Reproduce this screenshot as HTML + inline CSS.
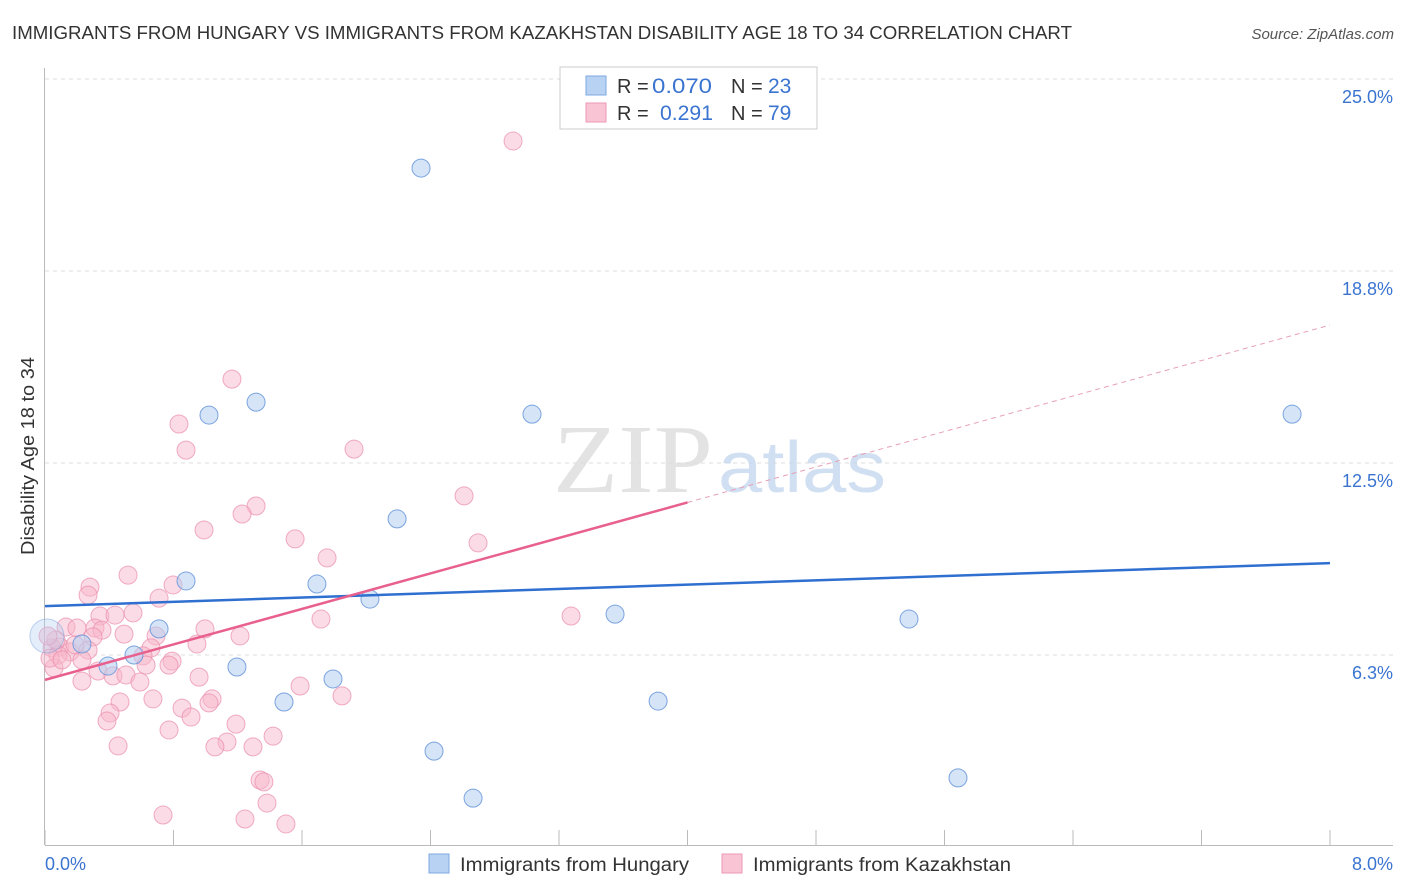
<!DOCTYPE html>
<html><head><meta charset="utf-8">
<style>
body{margin:0;background:#fff;font-family:"Liberation Sans",sans-serif;}
svg{display:block}
</style></head>
<body>
<svg id="chart" width="1406" height="892" xmlns="http://www.w3.org/2000/svg">
<text x="12" y="39" font-size="18" fill="#333" textLength="1060" lengthAdjust="spacingAndGlyphs">IMMIGRANTS FROM HUNGARY VS IMMIGRANTS FROM KAZAKHSTAN DISABILITY AGE 18 TO 34 CORRELATION CHART</text>
<text x="1394" y="39" font-size="15" fill="#555" font-style="italic" text-anchor="end">Source: ZipAtlas.com</text>
<text x="34" y="456" font-size="18" fill="#333" text-anchor="middle" textLength="198" lengthAdjust="spacingAndGlyphs" transform="rotate(-90 34 456)">Disability Age 18 to 34</text>
<g id="grid"></g>
<g><text x="553" y="492" font-size="98" fill="#ddd" font-family="Liberation Serif,serif" opacity="0.8" textLength="160" lengthAdjust="spacingAndGlyphs">ZIP</text><text x="718" y="492" font-size="72" fill="#c5d8ee" opacity="0.8" textLength="168" lengthAdjust="spacingAndGlyphs">atlas</text></g>
<g id="axes"></g>
<g id="pinkpts"></g>
<g id="bluepts"></g>
<g id="trends"></g>
<g>
<rect x="560" y="67" width="257" height="62" fill="#fff" stroke="#ccc"/>
<rect x="586" y="76" width="20" height="19" fill="#b8d2f4" stroke="#7fa8e0"/>
<rect x="586" y="103" width="20" height="19" fill="#f9c4d3" stroke="#ec9ab5"/>
<text x="617" y="93" font-size="20" fill="#333">R = </text><text x="652" y="93" font-size="21" fill="#3a74d0" textLength="60" lengthAdjust="spacingAndGlyphs">0.070</text>
<text x="731" y="93" font-size="20" fill="#333">N = </text><text x="768" y="93" font-size="21" fill="#3a74d0">23</text>
<text x="617" y="120" font-size="20" fill="#333">R = </text><text x="660" y="120" font-size="21" fill="#3a74d0" textLength="53" lengthAdjust="spacingAndGlyphs">0.291</text>
<text x="731" y="120" font-size="20" fill="#333">N = </text><text x="768" y="120" font-size="21" fill="#3a74d0">79</text>
</g>
<g>
<rect x="429" y="854" width="20" height="19" fill="#b8d2f4" stroke="#7fa8e0"/>
<text x="460" y="871" font-size="19" fill="#333" textLength="229" lengthAdjust="spacingAndGlyphs">Immigrants from Hungary</text>
<rect x="722" y="854" width="20" height="19" fill="#f9c4d3" stroke="#ec9ab5"/>
<text x="753" y="871" font-size="19" fill="#333" textLength="258" lengthAdjust="spacingAndGlyphs">Immigrants from Kazakhstan</text>
</g>
</svg>
<script>
const yTicks=[6.25,12.5,18.75,25];
const yTickLabels=["6.3%","12.5%","18.8%","25.0%"];
const xTickLabels=["0.0%","8.0%"];
const blueX=[2.341,1.021,1.314,3.032,7.764,2.192,0.878,1.693,2.023,3.549,5.379,0.710,0.230,0.554,0.392,1.195,1.793,1.488,3.817,2.422,5.684,2.665,0.012];
const blueY=[22.10,14.06,14.48,14.09,14.09,10.68,8.66,8.56,8.07,7.58,7.42,7.10,6.61,6.25,5.89,5.86,5.47,4.72,4.75,3.12,2.25,1.59,6.87];
const pinkX=[2.914,1.164,0.834,0.878,1.924,2.609,1.314,1.227,0.990,1.557,2.696,1.756,0.517,0.280,0.797,0.710,0.268,0.548,0.342,0.436,3.275,1.718,0.131,0.199,0.311,0.355,0.996,1.214,0.492,0.691,0.299,0.946,0.660,0.093,0.044,0.268,0.156,0.081,0.610,0.230,0.791,0.629,0.056,0.330,0.772,0.423,0.504,0.591,0.230,0.959,1.588,1.849,0.672,1.040,0.467,0.853,1.021,0.405,0.909,0.386,1.189,0.772,1.420,1.133,1.058,1.295,0.455,1.339,1.363,1.382,0.735,1.245,1.500,0.031,0.068,0.187,0.106,0.019];
const pinkY=[22.98,15.23,13.77,12.92,12.95,11.43,11.10,10.84,10.32,10.03,9.90,9.41,8.85,8.46,8.53,8.10,8.20,7.62,7.52,7.55,7.52,7.42,7.16,7.13,7.13,7.06,7.10,6.87,6.93,6.87,6.84,6.61,6.48,6.51,6.48,6.41,6.35,6.25,6.22,6.09,6.05,5.92,5.83,5.73,5.92,5.57,5.60,5.37,5.40,5.53,5.24,4.92,4.82,4.82,4.72,4.52,4.69,4.36,4.23,4.10,4.00,3.81,3.61,3.42,3.26,3.26,3.29,2.18,2.12,1.43,1.04,0.91,0.75,6.15,6.74,6.58,6.09,6.87];
const blueTrend=[7.84,9.24];
const pinkTrend=[5.44,16.99];
const pinkSolidEnd=4.0;
const NS="http://www.w3.org/2000/svg";
const X=v=>45+v/8*1285, Y=v=>847-v*30.72;
function mk(tag,attrs,parent){const e=document.createElementNS(NS,tag);for(const k in attrs)e.setAttribute(k,attrs[k]);parent.appendChild(e);return e;}
const grid=document.getElementById('grid'),axes=document.getElementById('axes');
yTicks.forEach((t,i)=>{
 const l=mk('line',{x1:45,x2:1393,y1:Y(t),y2:Y(t),stroke:'#ddd','stroke-dasharray':'4 4'},grid);
 
 
 const tx=mk('text',{x:1393,y:Y(t)+24,'font-size':18,fill:'#3a74d0','text-anchor':'end'},axes);
 tx.textContent=yTickLabels[i];
 
 
});
mk('line',{x1:45,x2:1393,y1:79,y2:79,stroke:'#ddd','stroke-dasharray':'4 4'},grid);
const ya=mk('line',{x1:44.5,x2:44.5,y1:68,y2:845,stroke:'#bbb'},axes);


const xa=mk('line',{x1:45,x2:1393,y1:845.5,y2:845.5,stroke:'#bbb'},axes);


for(let i=0;i<=10;i++){const tk=mk('line',{x1:X(i*0.8),x2:X(i*0.8),y1:830,y2:845,stroke:'#bbb'},axes);
 
 }
const xl0=mk('text',{x:45,y:870,'font-size':18,fill:'#3a74d0'},axes);xl0.textContent=xTickLabels[0];


const xl1=mk('text',{x:1393,y:870,'font-size':18,fill:'#3a74d0','text-anchor':'end'},axes);xl1.textContent=xTickLabels[1];


const pp=document.getElementById('pinkpts');
pinkX.forEach((v,i)=>{const c=mk('circle',{cx:X(v),cy:Y(pinkY[i]),r:9,fill:'#f7b7cb','fill-opacity':0.5,stroke:'#e98bab','stroke-opacity':0.7,'stroke-width':1},pp);
 
 });
const bp=document.getElementById('bluepts');
blueX.forEach((v,i)=>{const big=(i===blueX.length-1);const c=mk('circle',{cx:X(v),cy:Y(blueY[i]),r:big?17:9,fill:'#b3cdf0','fill-opacity':big?0.35:0.55,stroke:'#5f90d8','stroke-opacity':big?0.4:0.8,'stroke-width':1},bp);
 
 });
const tr=document.getElementById('trends');
const bl=mk('line',{x1:X(0),y1:Y(blueTrend[0]),x2:X(8),y2:Y(blueTrend[1]),stroke:'#2f6fd0','stroke-width':2.5},tr);


const pAt=x=>pinkTrend[0]+(pinkTrend[1]-pinkTrend[0])*x/8;
const ps=mk('line',{x1:X(0),y1:Y(pAt(0)),x2:X(pinkSolidEnd),y2:Y(pAt(pinkSolidEnd)),stroke:'#e8608e','stroke-width':2.5},tr);


const pd=mk('line',{x1:X(pinkSolidEnd),y1:Y(pAt(pinkSolidEnd)),x2:X(8),y2:Y(pAt(8)),stroke:'#e8a0b8','stroke-width':1,'stroke-dasharray':'5 4'},tr);


</script>
</body></html>
